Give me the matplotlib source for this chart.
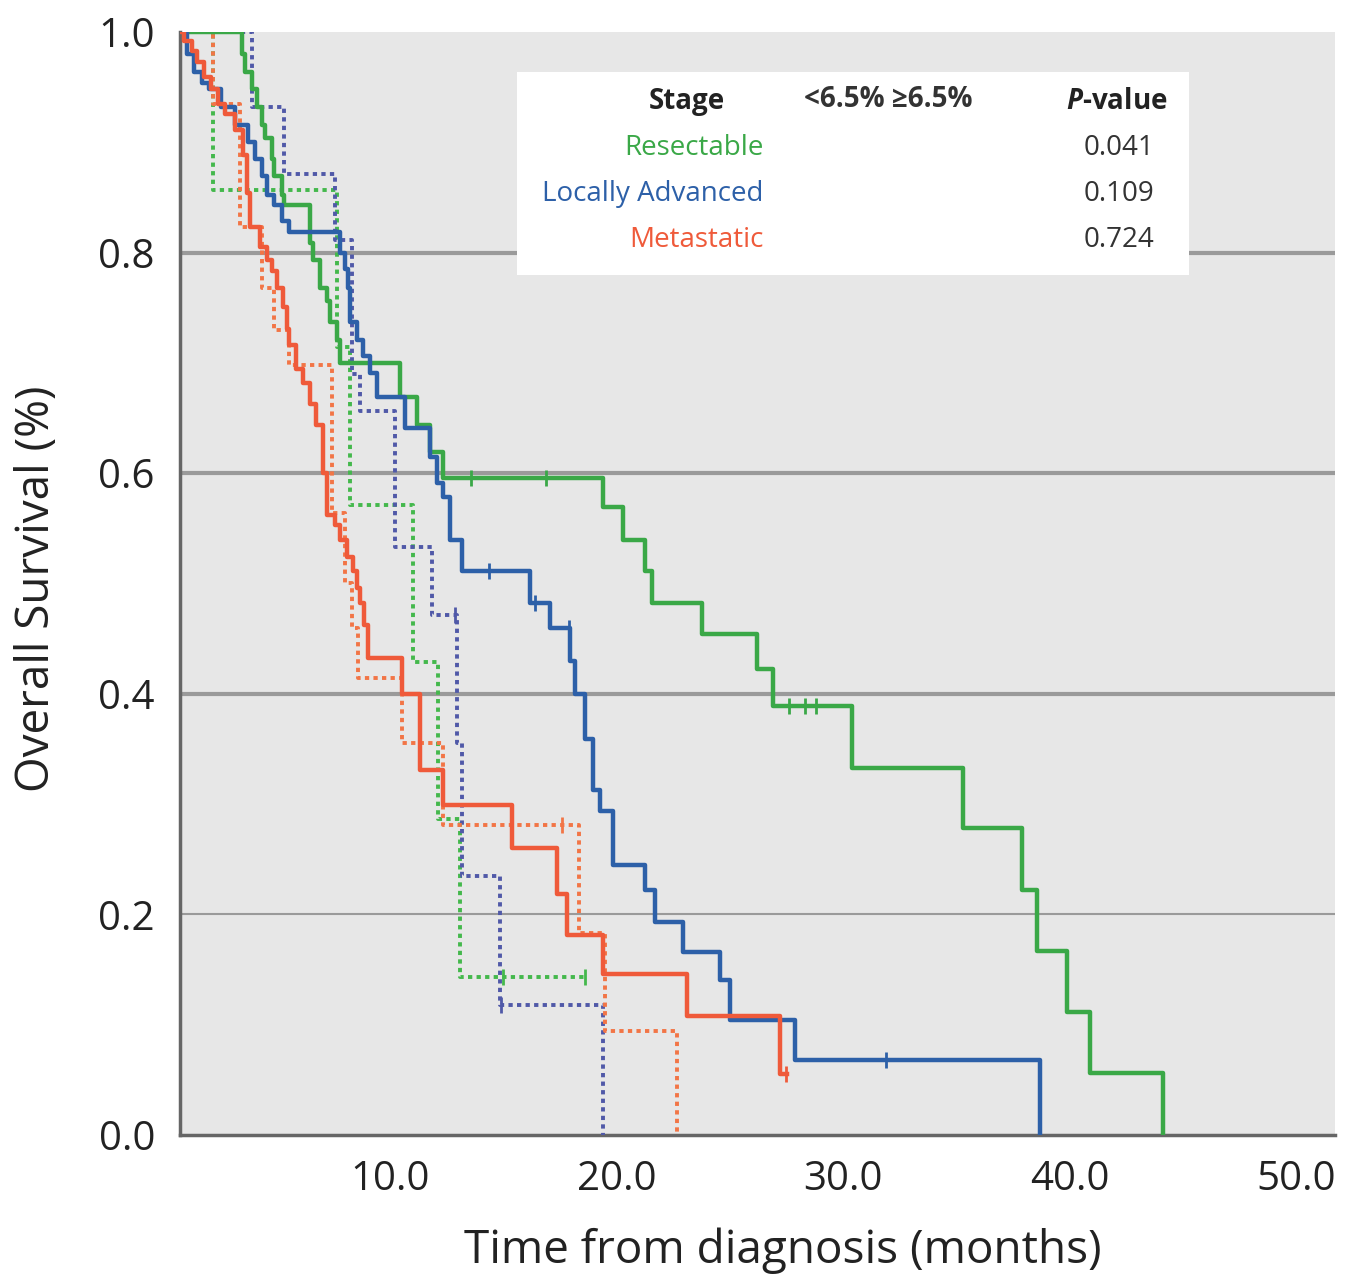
import matplotlib
matplotlib.use("Agg")
import matplotlib.pyplot as plt
from matplotlib.patches import Rectangle
import numpy as np

# Kaplan-Meier curves (time in months, survival fraction)
res_lo_t = [0.8, 3.47, 3.60, 3.91, 4.17, 4.35, 4.48, 4.79, 4.92, 5.23, 5.36, 6.47, 6.60, 6.91, 7.22, 7.35,
            7.66, 7.79, 10.44, 11.19, 11.77, 12.34, 19.40, 20.29, 21.26, 21.57, 23.77, 26.20, 26.91, 30.40,
            35.30, 37.90, 38.56, 39.89, 40.91, 44.13]
res_lo_s = [1.0, 0.980, 0.964, 0.948, 0.932, 0.916, 0.904, 0.885, 0.869, 0.852, 0.843, 0.809, 0.793, 0.768,
            0.756, 0.737, 0.721, 0.700, 0.669, 0.644, 0.619, 0.596, 0.569, 0.539, 0.511, 0.482, 0.454, 0.422,
            0.389, 0.333, 0.278, 0.222, 0.167, 0.111, 0.056, 0.0]
res_lo_cens = [13.6, 16.9, 27.6, 28.3, 28.8]

res_hi_t = [0.8, 2.2, 7.66, 8.23, 11.02, 12.12, 13.09, 18.6]
res_hi_s = [1.0, 0.857, 0.714, 0.571, 0.429, 0.286, 0.143, 0.143]
res_hi_cens = [15.0, 18.6]

la_lo_t = [0.8, 1.08, 1.39, 1.74, 2.05, 2.58, 3.16, 3.73, 4.04, 4.35, 4.61, 4.92, 5.23, 5.58, 7.79, 8.01,
           8.15, 8.23, 8.54, 8.81, 9.12, 9.43, 10.66, 11.77, 12.08, 12.34, 12.65, 13.18, 16.18, 17.06, 17.95,
           18.17, 18.61, 18.96, 19.27, 19.85, 21.26, 21.70, 22.94, 24.57, 25.01, 27.88, 38.70]
la_lo_s = [1.0, 0.980, 0.964, 0.954, 0.948, 0.932, 0.916, 0.900, 0.885, 0.869, 0.852, 0.843, 0.829, 0.819,
           0.800, 0.785, 0.768, 0.737, 0.721, 0.706, 0.691, 0.669, 0.641, 0.615, 0.591, 0.578, 0.539, 0.511,
           0.482, 0.460, 0.430, 0.400, 0.359, 0.313, 0.294, 0.245, 0.222, 0.193, 0.166, 0.140, 0.104, 0.068, 0.0]
la_lo_cens = [14.4, 16.4, 17.9, 31.9]

la_hi_t = [0.8, 3.91, 5.36, 7.57, 8.32, 8.68, 10.22, 11.85, 12.96, 13.18, 14.86, 19.40]
la_hi_s = [1.0, 0.932, 0.871, 0.811, 0.690, 0.656, 0.533, 0.471, 0.355, 0.235, 0.118, 0.0]
la_hi_cens = [12.9, 14.9]

met_lo_t = [0.8, 0.95, 1.26, 1.52, 1.83, 2.14, 2.41, 2.72, 3.16, 3.51, 3.69, 3.82, 4.26, 4.57, 4.83, 5.01,
            5.28, 5.45, 5.58, 5.89, 6.16, 6.47, 6.73, 7.04, 7.22, 7.57, 7.79, 8.10, 8.37, 8.54, 8.68, 8.85,
            9.03, 10.53, 11.32, 12.34, 15.39, 17.37, 17.81, 19.40, 23.11, 27.22, 27.53]
met_lo_s = [1.0, 0.992, 0.983, 0.973, 0.959, 0.948, 0.935, 0.926, 0.911, 0.888, 0.854, 0.823, 0.805, 0.793,
            0.783, 0.768, 0.751, 0.731, 0.716, 0.694, 0.682, 0.663, 0.644, 0.600, 0.562, 0.553, 0.539, 0.524,
            0.511, 0.496, 0.482, 0.462, 0.432, 0.400, 0.331, 0.299, 0.260, 0.218, 0.181, 0.146, 0.108, 0.055,
            0.055]
met_lo_cens = [27.5]

met_hi_t = [0.8, 2.19, 3.38, 4.35, 4.92, 5.58, 7.44, 8.01, 8.32, 8.59, 10.53, 12.34, 18.34, 19.49, 22.67]
met_hi_s = [1.0, 0.935, 0.823, 0.768, 0.730, 0.698, 0.564, 0.50, 0.46, 0.414, 0.355, 0.281, 0.183, 0.094, 0.0]
met_hi_cens = [17.6]

stages = ['Resectable', 'Locally Advanced', 'Metastatic']
p_values = ['0.041', '0.109', '0.724']
stage_colors = ['#3aa847', '#2d60a8', '#ef5a3a']
dash_colors = ['#44b84c', '#5059a8', '#f27546']

y_ticks = [0.0, 0.2, 0.4, 0.6, 0.8, 1.0]
x_ticks = [10, 20, 30, 40, 50]
grid_levels = [0.2, 0.4, 0.6, 0.8]
grid_widths = [1.5, 3.0, 3.0, 3.0]

font = 'Open Sans'
plt.rcParams['font.family'] = [font, 'DejaVu Sans']
plt.rcParams['mathtext.fontset'] = 'custom'
plt.rcParams['mathtext.bfit'] = f'{font}:italic:bold'
plt.rcParams['mathtext.bf'] = f'{font}:bold'
plt.rcParams['mathtext.rm'] = font


def step_value(t, s, x):
    i = np.searchsorted(t, x, side='right') - 1
    return np.array(s)[i]


fig = plt.figure(figsize=(13.49, 12.78), dpi=100)
ax = fig.add_axes([0.1334, 0.112, 0.8562, 0.863])
ax.set_facecolor('#e7e7e7')

for lvl, lw in zip(grid_levels, grid_widths):
    ax.axhline(lvl, color='#9a9a9a', lw=lw, zorder=1)

curves = [
    (res_hi_t, res_hi_s, res_hi_cens, dash_colors[0], (0, (1.1, 1.1))),
    (la_hi_t, la_hi_s, la_hi_cens, dash_colors[1], (0, (1.1, 1.1))),
    (met_hi_t, met_hi_s, met_hi_cens, dash_colors[2], (0, (1.1, 1.1))),
    (res_lo_t, res_lo_s, res_lo_cens, stage_colors[0], '-'),
    (la_lo_t, la_lo_s, la_lo_cens, stage_colors[1], '-'),
    (met_lo_t, met_lo_s, met_lo_cens, stage_colors[2], '-'),
]
for t, s, cens, col, ls in curves:
    lw = 3.2 if ls == '-' else 2.8
    ax.step(t, s, where='post', color=col, lw=lw, linestyle=ls, zorder=3)
    cx = np.array(cens)
    ax.plot(cx, step_value(t, s, cx), linestyle='none', marker='|', ms=11, mew=2, color=col, zorder=4)

ax.set_xlim(0.75, 51.7)
ax.set_ylim(0, 1.0)
ax.set_xticks(x_ticks)
ax.set_xticklabels([f'{v:.1f}' for v in x_ticks])
ax.set_yticks(y_ticks)
ax.set_yticklabels([f'{v:.1f}' for v in y_ticks])
ax.tick_params(length=0, labelsize=29, colors='#222222', pad=18)
ax.tick_params(axis='x', pad=18)

for side in ['top', 'right']:
    ax.spines[side].set_visible(False)
ax.spines['left'].set_color('#666666')
ax.spines['left'].set_linewidth(2.5)
ax.spines['bottom'].set_color('#666666')
ax.spines['bottom'].set_linewidth(2.5)

ax.set_xlabel('Time from diagnosis (months)', fontsize=33, color='#222222')
ax.xaxis.set_label_coords(0.522, -0.084)
ax.set_ylabel('Overall Survival (%)', fontsize=33, color='#222222')
ax.yaxis.set_label_coords(-0.104, 0.495)

# table-style legend box
ax.add_patch(Rectangle((0.292, 0.78), 0.582, 0.184, transform=ax.transAxes,
                       facecolor='white', edgecolor='none', zorder=5))
fs = 20
hdr_y = 0.9365
ax.text(0.439, hdr_y, 'Stage', transform=ax.transAxes, ha='center', va='center',
        fontsize=fs, fontweight='bold', color='#222222', zorder=6)
ax.text(0.613, hdr_y + 0.002, '<6.5% \u22656.5%', transform=ax.transAxes, ha='center', va='center',
        fontsize=fs, fontweight='bold', color='#333333', zorder=6)
ax.text(0.811, hdr_y, r'$\mathbfit{P}$' + '-value', transform=ax.transAxes, ha='center', va='center',
        fontsize=fs, fontweight='bold', color='#222222', zorder=6)
row_y = [0.895, 0.853, 0.811]
for name, pv, col, yy in zip(stages, p_values, stage_colors, row_y):
    ax.text(0.505, yy, name, transform=ax.transAxes, ha='right', va='center',
            fontsize=fs, color=col, zorder=6)
    ax.text(0.844, yy, pv, transform=ax.transAxes, ha='right', va='center',
            fontsize=fs, color='#333333', zorder=6)

fig.savefig('out.png', dpi=100)
